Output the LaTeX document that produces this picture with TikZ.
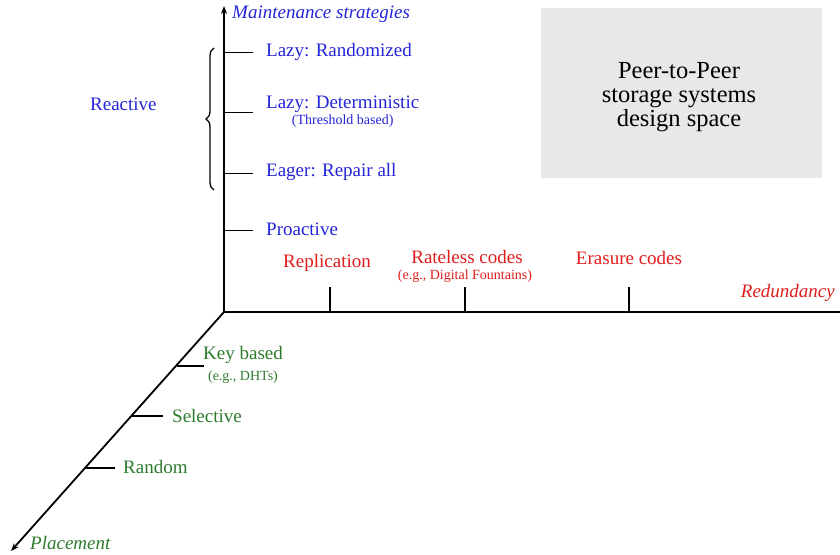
\documentclass[tikz,border=0pt]{standalone}
\usepackage{fontspec}
\setmainfont{Liberation Serif}
\usetikzlibrary{arrows.meta,decorations.pathreplacing}
\definecolor{myblue}{HTML}{2424D8}
\definecolor{myred}{HTML}{E01C1C}
\definecolor{mygreen}{HTML}{2E7B2E}
\definecolor{boxgray}{HTML}{E8E8E8}
\begin{document}
\begin{tikzpicture}[x=1pt,y=-1pt,
  axis/.style={line width=1.8pt,black},
  tickv/.style={line width=0.9pt,black},
  tickh/.style={line width=1.6pt,black},
  bl/.style={text=myblue,font=\fontsize{19}{21}\selectfont,inner sep=0pt,anchor=west},
  rd/.style={text=myred,font=\fontsize{19}{21}\selectfont,inner sep=0pt,anchor=center},
  gr/.style={text=mygreen,font=\fontsize{19}{21}\selectfont,inner sep=0pt,anchor=west},
  small/.style={font=\fontsize{14}{15}\selectfont}]
\useasboundingbox (0,0) rectangle (840,554);
% gray box
\node[fill=boxgray,minimum width=281pt,minimum height=170pt,inner sep=0pt,anchor=north west] (box) at (541,8) {};
\node[align=center,font=\fontsize{24.5}{24}\selectfont,inner sep=0pt] (boxtxt) at (679,97)
  {Peer-to-Peer\\storage systems\\design space};
% axes
\coordinate (O) at (224,312);
\coordinate (top) at (224,6);
\coordinate (right) at (840,312);
\coordinate (diag) at (11,551);
\draw[axis,-{Stealth[length=8pt,width=6pt]}] (O) -- (top);
\draw[axis] (O) -- (right);
\draw[axis,-{Stealth[length=8pt,width=6pt]}] (O) -- (diag);
% vertical axis ticks and labels
\node[bl,font=\fontsize{19}{21}\selectfont\itshape] (maint) at (232,14) {Maintenance strategies};
\foreach \y/\n in {52/t1,112/t2,173/t3,230/t4}{
  \coordinate (\n a) at (224,\y);
  \coordinate (\n b) at (253,\y);
  \draw[tickv] (\n a) -- (\n b);
}
\node[bl] (lr) at (266,52) {Lazy: Randomized};
\node[bl] (ld) at (266,104) {Lazy: Deterministic};
\node[text=myblue,small,inner sep=0pt] (thr) at (ld.south |- 0,121) {(Threshold based)};
\node[bl] (ea) at (266,172) {Eager: Repair all};
\node[bl] (pr) at (266,229) {Proactive};
% brace
\coordinate (bt) at (214,48);
\coordinate (bb) at (214,190);
\draw[line width=1.3pt,decorate,decoration={brace,amplitude=8pt}] (bb) -- (bt);
\node[bl] (reac) at (90,104) {Reactive};
% horizontal ticks
\foreach \x/\n in {330/h1,465/h2,629/h3}{
  \coordinate (\n a) at (\x,287);
  \coordinate (\n b) at (\x,312);
  \draw[tickh] (\n a) -- (\n b);
}
\node[rd] (rep) at (327,263) {Replication};
\node[rd] (rl) at (467,257) {Rateless codes};
\node[rd,small] (df) at (465,276) {(e.g., Digital Fountains)};
\node[rd] (er) at (629,258) {Erasure codes};
\node[rd,font=\fontsize{19}{21}\selectfont\itshape,anchor=east] (red) at (835,293) {Redundancy};
% diagonal ticks
\foreach \ya/\xa/\xb/\n in {366/177/204/d1,416/132/163/d2,468/86/115/d3}{
  \coordinate (\n a) at (\xa,\ya);
  \coordinate (\n b) at (\xb,\ya);
  \draw[tickv,line width=1.2pt] (\n a) -- (\n b);
}
\node[gr] (kb) at (203,355) {Key based};
\node[text=mygreen,small,inner sep=0pt] (dht) at (243,377) {(e.g., DHTs)};
\node[gr] (sel) at (172,416) {Selective};
\node[gr] (rnd) at (123,467) {Random};
\node[gr,font=\fontsize{19}{21}\selectfont\itshape] (pl) at (30,543) {Placement};
\end{tikzpicture}
\end{document}
